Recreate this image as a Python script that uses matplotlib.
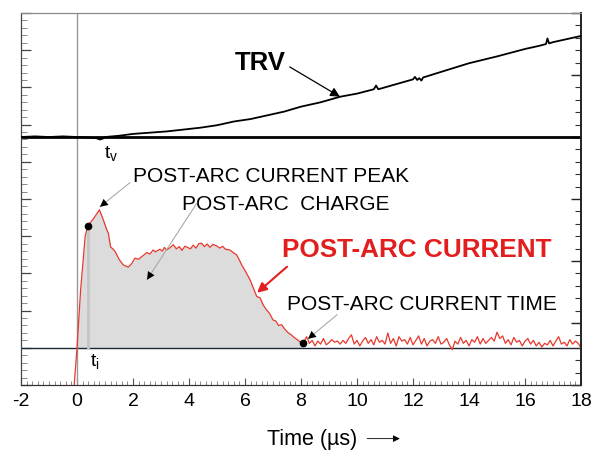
import numpy as np
import matplotlib
matplotlib.use('Agg')
import matplotlib.pyplot as plt
from matplotlib.ticker import MultipleLocator

plt.rcParams['font.family'] = ['Liberation Sans', 'DejaVu Sans']
plt.rcParams['mathtext.fontset'] = 'custom'
plt.rcParams['mathtext.rm'] = 'Liberation Sans'
plt.rcParams['mathtext.it'] = 'Liberation Sans'

# post-arc current (arbitrary units, left scale), hump part
t_hump = [-0.12, 0.0, 0.13, 0.29, 0.38, 0.58, 0.80, 0.94, 1.05, 1.12, 1.20, 1.28, 1.36,
          1.51, 1.65, 1.83, 1.95, 2.07, 2.2, 2.31, 2.4, 2.49, 2.6, 2.72, 2.8, 2.96,
          3.05, 3.12, 3.2, 3.3, 3.44, 3.55, 3.65, 3.75, 3.85, 3.92, 4.05, 4.15, 4.25,
          4.35, 4.45, 4.55, 4.65, 4.75, 4.85, 4.99, 5.1, 5.2, 5.3, 5.46, 5.6, 5.7,
          5.8, 5.88, 6.0, 6.18, 6.3, 6.42, 6.54, 6.65, 6.77, 6.88, 7.0, 7.1, 7.2,
          7.31, 7.42, 7.55, 7.65, 7.75, 7.85, 7.95, 8.06]
i_hump = [-1.2, 0.0, 1.56, 2.99, 3.28, 3.46, 3.71, 3.44, 3.2, 3.08, 2.71, 2.66, 2.59,
          2.37, 2.23, 2.17, 2.26, 2.41, 2.38, 2.45, 2.5, 2.56, 2.52, 2.63, 2.58, 2.65,
          2.6, 2.7, 2.63, 2.68, 2.77, 2.66, 2.72, 2.62, 2.73, 2.71, 2.66, 2.76, 2.68,
          2.8, 2.81, 2.72, 2.79, 2.7, 2.78, 2.74, 2.68, 2.73, 2.65, 2.63, 2.55, 2.5,
          2.36, 2.23, 2.08, 1.83, 1.6, 1.38, 1.34, 1.15, 1.02, 0.92, 0.75, 0.72, 0.6,
          0.62, 0.5, 0.4, 0.35, 0.28, 0.23, 0.17, 0.13]

# residual noise after current zero, 8.1 .. 18.0 us every 0.1
t_tail = [round(8.1 + 0.1 * k, 1) for k in range(100)]
i_tail = [0.15, 0.30, 0.12, 0.20, 0.05, 0.18, 0.10, 0.25, 0.08, 0.14,
          0.22, 0.15, 0.18, 0.10, 0.20, 0.12, 0.25, 0.35, 0.10, 0.20,
          0.05, 0.18, 0.28, 0.12, 0.22, 0.08, 0.30, 0.15, 0.20, 0.10,
          0.40, 0.12, 0.25, 0.05, 0.30, 0.18, 0.22, 0.10, 0.28, 0.08,
          0.20, 0.32, 0.10, 0.25, 0.05, 0.18, 0.22, 0.12, 0.30, 0.10,
          0.15, 0.25, 0.08, -0.05, 0.18, 0.10, 0.28, 0.12, 0.20, 0.05,
          0.22, 0.15, 0.30, 0.10, 0.25, 0.12, 0.20, 0.28, 0.18, 0.42,
          0.25, 0.32, 0.12, 0.22, 0.08, 0.28, 0.15, 0.20, 0.05, 0.18,
          0.25, 0.10, 0.20, 0.05, 0.15, 0.02, 0.12, 0.08, 0.20, 0.05,
          0.18, 0.30, 0.10, 0.15, 0.05, 0.22, 0.10, 0.18, 0.12, 0.0]

# TRV (arbitrary units, right scale)
t_trv = [-2.0, -1.5, -1.0, -0.5, 0.0, 0.5, 0.7, 0.82, 0.95, 1.0, 1.5, 2.0, 2.6, 3.2,
         3.8, 4.4, 5.0, 5.6, 6.2, 6.8, 7.4, 8.0, 8.7, 9.4, 10.0, 10.6, 10.68, 10.76,
         11.3, 12.0, 12.07, 12.15, 12.22, 12.3, 12.36, 13.0, 14.0, 15.0, 16.0, 16.5,
         16.75, 16.8, 16.86, 17.0, 17.5, 18.0]
v_trv = [0.0, 0.01, 0.0, 0.01, 0.0, -0.01, -0.02, -0.04, -0.02, 0.0, 0.02, 0.05, 0.07, 0.09,
         0.12, 0.15, 0.19, 0.25, 0.29, 0.35, 0.41, 0.49, 0.56, 0.65, 0.7, 0.77, 0.83, 0.77,
         0.84, 0.93, 0.97, 0.92, 0.95, 0.91, 0.96, 1.05, 1.19, 1.3, 1.42, 1.47,
         1.5, 1.59, 1.51, 1.53, 1.58, 1.63]

t_i, i_i = 0.38, 3.28
t_end, i_end = 8.06, 0.13

t_cur = np.array(t_hump + t_tail)
i_cur = np.array(i_hump + i_tail)

fig = plt.figure(figsize=(5.95, 4.55), dpi=100)
ax = fig.add_axes([0.0353, 0.1538, 0.9412, 0.8176])
ax2 = ax.twinx()

ax.set_xlim(-2, 18)
ax.set_ylim(-1, 9)
ax2.set_ylim(-4, 2)

# shaded charge
th = np.array(t_hump)
ih = np.array(i_hump)
ax.fill_between(th, 0, ih, where=(th >= 0), color='#dcdcdc', lw=0, zorder=1)
ax.axhline(0, color='#1c2a38', lw=1.0, zorder=2)
ax.axvline(0, color='#999999', lw=1.0, zorder=2)
ax.plot([t_i, t_i], [0, i_i], color='#c4c4c4', lw=2, zorder=2)
ax.plot(t_cur, i_cur, color='#e8382d', lw=0.9, zorder=3)
ax.plot([t_i, t_end], [i_i, i_end], 'o', color='k', ms=4.5, zorder=4)

ax2.axhline(0, color='k', lw=2.0, zorder=2)
ax2.plot(t_trv, v_trv, color='k', lw=1.3, zorder=3)

# ticks
ax.xaxis.set_major_locator(MultipleLocator(2))
ax.xaxis.set_minor_locator(MultipleLocator(0.2))
ax.yaxis.set_major_locator(MultipleLocator(1))
ax.yaxis.set_minor_locator(MultipleLocator(0.2))
ax2.yaxis.set_major_locator(MultipleLocator(1))
ax2.yaxis.set_minor_locator(MultipleLocator(0.2))
ax.tick_params(axis='x', which='major', direction='in', length=5, width=0.8,
               color='#555555', labelsize=14, pad=6, top=False)
ax.tick_params(axis='x', which='minor', direction='in', length=3, width=0.6,
               color='#777777', top=False)
ax.tick_params(axis='y', which='major', direction='in', length=7, width=0.9,
               color='#444444', labelleft=False, right=False)
ax.tick_params(axis='y', which='minor', direction='in', length=4, width=0.6,
               color='#777777', labelleft=False, right=False)
ax2.tick_params(axis='y', which='major', direction='in', length=7, width=1.0,
                color='#222222', labelright=False, left=False)
ax2.tick_params(axis='y', which='minor', direction='in', length=4, width=0.8,
                color='#333333', labelright=False, left=False)
ax.set_xticklabels([str(int(v)) for v in ax.get_xticks()])

for a in (ax, ax2):
    a.spines['top'].set_color('#888888')
    a.spines['left'].set_color('#444444')
    a.spines['right'].set_color('#222222')
    a.spines['bottom'].set_color('#333333')
    a.spines['right'].set_linewidth(1.2)

# labels
ax2.text(5.64, 1.19, 'TRV', fontsize=18.5, fontweight='bold', ha='left', va='center')
ax2.annotate('', xy=(9.39, 0.65), xytext=(7.6, 1.13),
             arrowprops=dict(arrowstyle='-|>', color='k', lw=0.9,
                             mutation_scale=14, shrinkA=0, shrinkB=0))
ax2.text(0.95, -0.27, r'$\mathregular{t_v}$', fontsize=14, ha='left', va='center')
ax.text(0.45, -0.38, r'$\mathregular{t_i}$', fontsize=14, ha='left', va='center')

ax.text(2.0, 4.6, 'POST-ARC CURRENT PEAK', fontsize=15, ha='left', va='center')
ax.text(3.75, 3.85, 'POST-ARC  CHARGE', fontsize=15, ha='left', va='center')
ax.text(7.32, 2.63, 'POST-ARC CURRENT', fontsize=18.8, fontweight='bold',
        color='#e21e1e', ha='left', va='center')
ax.text(7.5, 1.16, 'POST-ARC CURRENT TIME', fontsize=15, ha='left', va='center')


def pointer(start, tip):
    # thin grey shaft with a black head
    ax.annotate('', xy=tip, xytext=start,
                arrowprops=dict(arrowstyle='-', color='#aaaaaa', lw=0.8,
                                shrinkA=0, shrinkB=0))
    mid = (tip[0] + 0.22 * (start[0] - tip[0]), tip[1] + 0.22 * (start[1] - tip[1]))
    ax.annotate('', xy=tip, xytext=mid,
                arrowprops=dict(arrowstyle='-|>', color='k', lw=0.01,
                                mutation_scale=14, shrinkA=0, shrinkB=0))


pointer((1.89, 4.44), (0.82, 3.79))
pointer((4.29, 3.9), (2.5, 1.83))
pointer((9.29, 0.89), (8.25, 0.24))
ax.annotate('', xy=(6.43, 1.48), xytext=(7.5, 2.18),
            arrowprops=dict(arrowstyle='-|>', color='#e21e1e', lw=1.5,
                            mutation_scale=14, shrinkA=0, shrinkB=0))

fig.text(0.449, 0.033, 'Time (µs)', fontsize=15.5, ha='left', va='center')
ax.annotate('', xy=(0.672, 0.036), xytext=(0.617, 0.036), xycoords='figure fraction',
            textcoords='figure fraction',
            arrowprops=dict(arrowstyle='-|>', color='k', lw=0.6,
                            mutation_scale=10, shrinkA=0, shrinkB=0))

fig.savefig('out.png', dpi=100)
